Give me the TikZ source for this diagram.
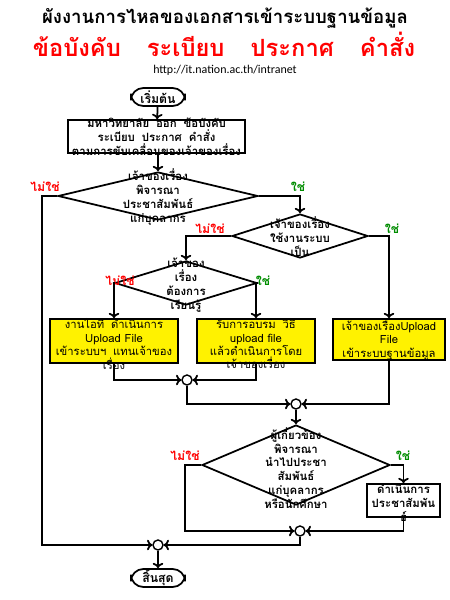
\documentclass[tikz,border=0pt]{standalone}
\usepackage{fontspec}
\setmainfont[Script=Thai]{Loma}
\newfontfamily\urlfont{Carlito}
\usepackage{tikz}
\usetikzlibrary{shapes,arrows.meta,positioning}

\begin{document}
\begin{tikzpicture}[
        x=0.02cm, y=-0.02cm,
        terminal/.style={rectangle, draw, fill=white, rounded corners=7pt, minimum width=1.08cm, minimum height=0.36cm, inner sep=0pt, line width=1pt, font=\bfseries\fontsize{7}{8}\selectfont},
        process/.style={rectangle, draw, fill=white, minimum width=3.54cm, minimum height=0.66cm, inner sep=0pt, line width=1pt},
        action/.style={rectangle, draw, fill=yellow, minimum height=0.88cm, inner sep=0pt, line width=1pt},
        decision/.style={diamond, draw, fill=white, inner sep=0pt, line width=1pt},
        boxtext/.style={align=center, inner sep=0pt, font=\bfseries\fontsize{6.5}{7.9}\selectfont},
        acttext/.style={align=center, inner sep=0pt, font=\fontsize{6.4}{7.6}\selectfont},
        joint/.style={circle, draw, fill=white, minimum size=0.2cm, inner sep=0pt, line width=0.8pt},
        arrow/.style={draw, -{To[length=3pt,width=6pt]}, line width=1pt},
        heading/.style={inner sep=0pt, font=\bfseries\fontsize{#1}{#1}\selectfont},
        yes/.style={text=green!55!black, font=\bfseries\fontsize{7}{8}\selectfont},
        no/.style={text=red, font=\bfseries\fontsize{7}{8}\selectfont}
    ]
    \useasboundingbox (0,0) rectangle (450,600);

    % Titles
    \node [heading=10.6] (title) at (225,18) {ผังงานการไหลของเอกสารเข้าระบบฐานข้อมูล};
    \node [heading=13.5, text=red] (subtitle) at (224,44) {ข้อบังคับ\hspace{1.1em}ระเบียบ\hspace{1.1em}ประกาศ\hspace{1.1em}คำสั่ง};
    \node [inner sep=0pt, font=\urlfont\fontsize{6.8}{8}\selectfont] (url) at (225,70) {http://it.nation.ac.th/intranet};

    % Main vertical flow
    \node [terminal] (start) at (158,97) {เริ่มต้น};
    \node [process] (issue) at (156.5,136.5) {};
    \node [boxtext] (issue-t) at (issue) {มหาวิทยาลัย\hspace{0.6em}ออก\hspace{0.6em}ข้อบังคับ\\ระเบียบ\hspace{0.6em}ประกาศ\hspace{0.6em}คำสั่ง\\ตามการขับเคลื่อนของเจ้าของเรื่อง};

    % Decisions
    \node [decision, minimum width=4cm, minimum height=0.96cm] (d1) at (158,196) {};
    \node [boxtext] (d1-t) at (158,197) {เจ้าของเรื่อง\\พิจารณา\\ประชาสัมพันธ์\\แก่บุคลากร};
    \node [decision, minimum width=2.72cm, minimum height=0.88cm] (d2) at (300,236) {};
    \node [boxtext] (d2-t) at (300,237) {เจ้าของเรื่อง\\ใช้งานระบบ\\เป็น};
    \node [decision, minimum width=2.84cm, minimum height=0.88cm] (d3) at (186,283) {};
    \node [boxtext] (d3-t) at (186,285) {เจ้าของ\\เรื่อง\\ต้องการ\\เรียนรู้};

    % Upload boxes
    \node [action, minimum width=2.56cm] (up1) at (114,341) {};
    \node [acttext] (up1-t) at (114,344) {งานไอที\hspace{0.6em}ดำเนินการ\\Upload File\\เข้าระบบฯ\hspace{0.6em}แทนเจ้าของ\\เรื่อง};
    \node [action, minimum width=2.36cm] (up2) at (256,341) {};
    \node [acttext] (up2-t) at (256,344) {รับการอบรม\hspace{0.6em}วิธี\\upload file\\แล้วดำเนินการโดย\\เจ้าของเรื่อง};
    \node [action, minimum width=2.24cm, minimum height=0.82cm] (up3) at (389,339.5) {};
    \node [acttext] (up3-t) at (389,339.5) {เจ้าของเรื่องUpload\\File\\เข้าระบบฐานข้อมูล};

    % Merge points
    \node [joint] (m1) at (187,380) {};
    \node [joint] (m2) at (296,404) {};

    % Publicity
    \node [decision, minimum width=3.76cm, minimum height=1.6cm] (d4) at (296,465) {};
    \node [boxtext] (d4-t) at (296,468) {ผู้เกี่ยวข้อง\\พิจารณา\\นำไปประชา\\สัมพันธ์\\แก่บุคลากร\\หรือนักศึกษา};
    \node [process, minimum width=1.46cm] (pr) at (403.5,500.5) {};
    \node [boxtext] (pr-t) at (403.5,503) {ดำเนินการ\\ประชาสัมพัน\\ธ์};

    \node [joint] (m3) at (300,531) {};
    \node [joint] (m4) at (158,545) {};
    \node [terminal] (stop) at (158,578) {สิ้นสุด};

    % Yes / no labels
    \node [no] (d1-no) at (45,187) {ไม่ใช่};
    \node [yes] (d1-yes) at (298,187) {ใช่};
    \node [no] (d2-no) at (210,229) {ไม่ใช่};
    \node [yes] (d2-yes) at (392,229) {ใช่};
    \node [no] (d3-no) at (120,281) {ไม่ใช่};
    \node [yes] (d3-yes) at (263,281) {ใช่};
    \node [no] (d4-no) at (185,456) {ไม่ใช่};
    \node [yes] (d4-yes) at (403,456) {ใช่};

    % Connections
    \path [arrow] (start) -- (issue);
    \path [arrow] (issue.south -| d1.north) -- (d1.north);
    \path [arrow] (d1.east) -| (d2.north);
    \path [arrow] (d1.west) -- ++(-15,0) |- (m4.west);
    \path [arrow] (d2.west) -| (d3.north);
    \path [arrow] (d2.east) -| (up3.north);
    \path [arrow] (d3.west) -| (up1.north);
    \path [arrow] (d3.east) -| (up2.north);

    \path [arrow] (up1.south) |- (m1.west);
    \path [arrow] (up2.south) |- (m1.east);
    \path [arrow] (m1.south) |- (m2.west);
    \path [arrow] (up3.south) |- (m2.east);
    \path [arrow] (m2) -- (d4.north);

    \path [arrow] (d4.east) -| (pr.north);
    \path [arrow] (d4.west) -- ++(-16,0) |- (m3.west);
    \path [arrow] (pr.south) |- (m3.east);
    \path [arrow] (m3.south) |- (m4.east);
    \path [arrow] (m4) -- (stop);

\end{tikzpicture}
\end{document}
